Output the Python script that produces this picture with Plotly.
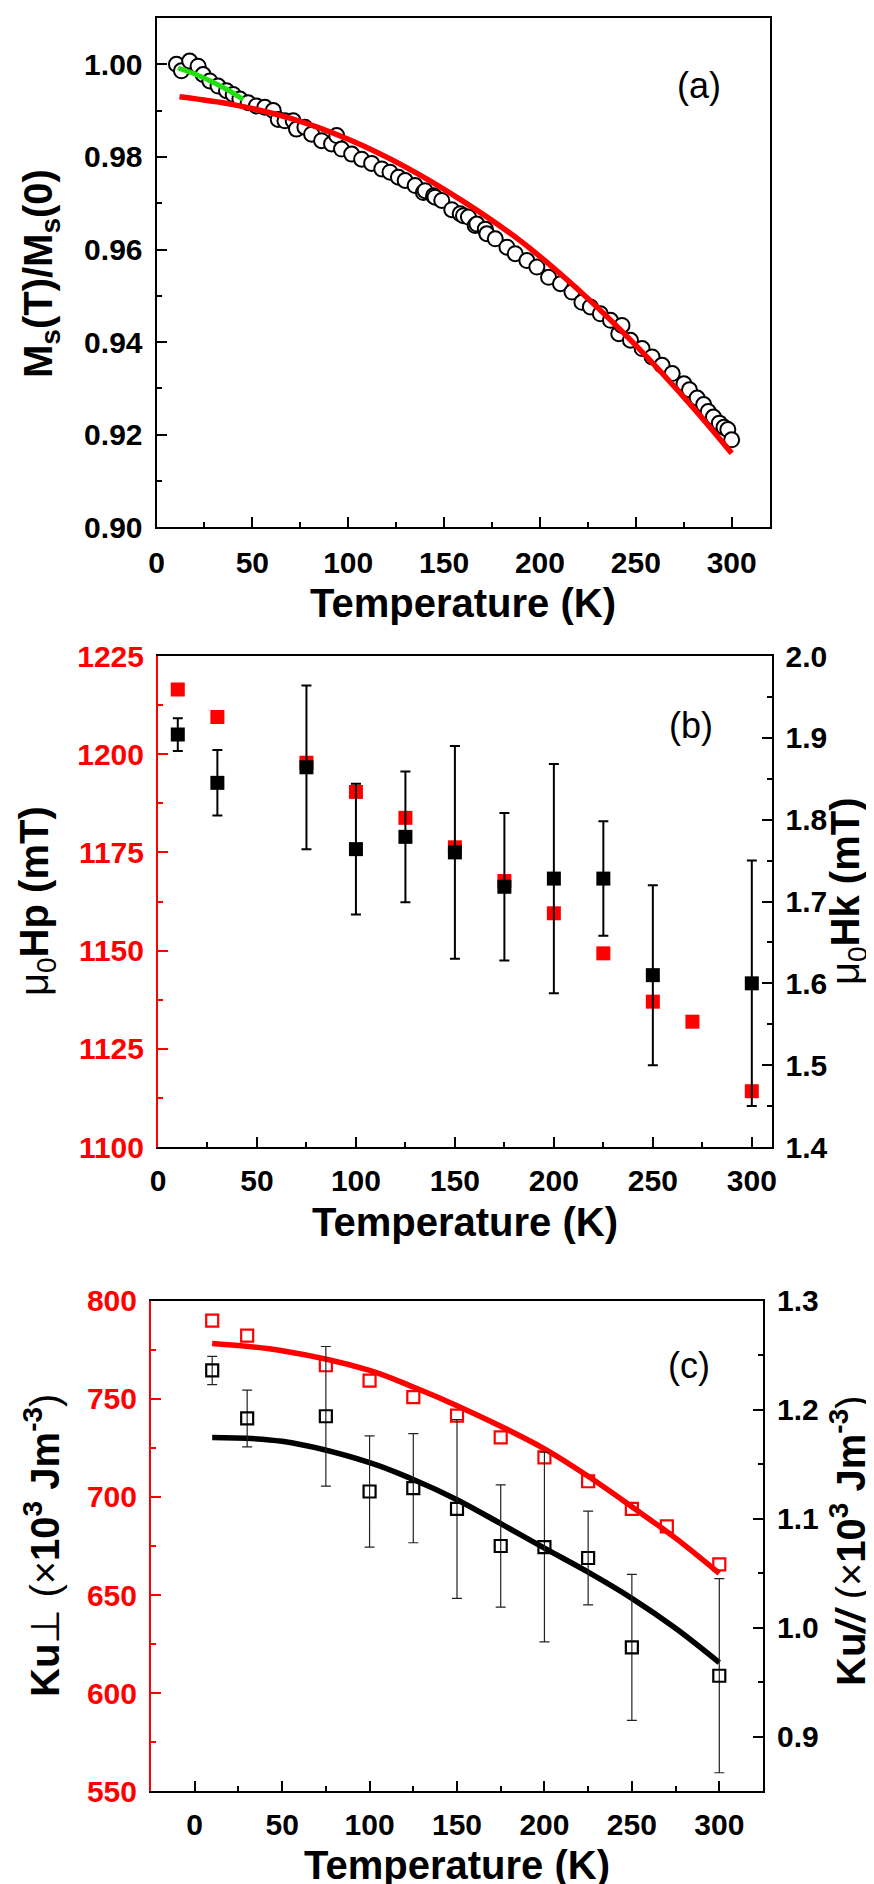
import plotly.graph_objects as go

W, H = 874, 1884
FONT = "Liberation Sans, Arial, Helvetica, sans-serif"

# ---------------- Panel (a) data ----------------
T_a = [10.4, 13.0, 17.3, 21.7, 24.3, 27.8, 32.1, 36.5, 40.0, 43.5, 47.8, 52.1, 56.5,
       60.9, 63.5, 67.0, 71.3, 73.0, 77.4, 80.9, 86.1, 91.3, 94.0, 96.5, 101.8, 107.0,
       112.2, 117.5, 121.8, 126.2, 129.7, 134.9, 139.2, 140.1, 144.5, 145.3, 148.8,
       154.0, 158.4, 160.1, 162.7, 166.2, 167.1, 171.5, 172.3, 176.7, 182.8, 187.1,
       193.2, 198.4, 204.5, 210.7, 216.7, 221.9, 226.3, 231.5, 236.8, 241.1, 242.8,
       247.2, 253.3, 258.5, 263.7, 269.0, 275.1, 278.0, 282.0, 285.4, 287.8, 290.5,
       293.6, 296.0, 298.0, 300.0]
Ms_ratio = [1.0000, 0.9986, 1.0007, 0.9996, 0.9978, 0.9964, 0.9953, 0.9943, 0.9935,
            0.9925, 0.9917, 0.9910, 0.9907, 0.9900, 0.9881, 0.9878, 0.9878, 0.9860,
            0.9864, 0.9849, 0.9835, 0.9828, 0.9846, 0.9817, 0.9806, 0.9795, 0.9786,
            0.9774, 0.9767, 0.9756, 0.9749, 0.9738, 0.9723, 0.9727, 0.9716, 0.9713,
            0.9706, 0.9686, 0.9677, 0.9673, 0.9670, 0.9652, 0.9655, 0.9644, 0.9634,
            0.9623, 0.9605, 0.9591, 0.9576, 0.9562, 0.9540, 0.9526, 0.9508, 0.9486,
            0.9476, 0.9461, 0.9447, 0.9418, 0.9436, 0.9404, 0.9386, 0.9368, 0.9350,
            0.9332, 0.9310, 0.9297, 0.9279, 0.9265, 0.9250, 0.9238, 0.9225, 0.9216,
            0.9211, 0.9189]
T_fit_a = [12, 40, 70, 100, 130, 160, 190, 220, 250, 280, 300]
M_fit_a = [0.9930, 0.9913, 0.9883, 0.9838, 0.9778, 0.9704, 0.9618, 0.9513, 0.9393,
           0.9258, 0.9160]
T_green = [11.2, 20.0, 28.7, 37.0, 45.2]
M_green = [0.9992, 0.9979, 0.9963, 0.9945, 0.9924]

# ---------------- Panel (b) data ----------------
T_hp = [10, 30, 75, 100, 125, 150, 175, 200, 225, 250, 270, 300]
Hp = [1216.5, 1209.5, 1197.8, 1190.4, 1183.8, 1176.3, 1167.7, 1159.5, 1149.3, 1137.0, 1131.9, 1114.2]
T_hk = [10, 30, 75, 100, 125, 150, 175, 200, 225, 250, 300]
Hk = [1.904, 1.845, 1.864, 1.764, 1.779, 1.760, 1.718, 1.728, 1.728, 1.610, 1.600]
Hk_err = [0.020, 0.040, 0.100, 0.080, 0.080, 0.130, 0.090, 0.140, 0.070, 0.110, 0.150]

# ---------------- Panel (c) data ----------------
T_kperp = [10, 30, 75, 100, 125, 150, 175, 200, 225, 250, 270, 300]
Kperp = [789.8, 782.2, 767.1, 759.3, 750.9, 741.4, 730.4, 720.2, 708.0, 693.9, 685.0, 665.6]
T_kfit = [10, 50, 100, 125, 150, 175, 200, 225, 250, 275, 300]
Kperp_fit = [778.2, 774.5, 764.5, 756.0, 746.5, 736.0, 724.5, 710.5, 695.0, 679.0, 661.0]
T_kpar = [10, 30, 75, 100, 125, 150, 175, 200, 225, 250, 300]
Kpar = [1.236, 1.192, 1.194, 1.125, 1.128, 1.109, 1.075, 1.074, 1.064, 0.982, 0.956]
Kpar_err = [0.013, 0.026, 0.064, 0.051, 0.050, 0.082, 0.056, 0.087, 0.043, 0.067, 0.089]
Kpar_fit = [1.1746, 1.1710, 1.1515, 1.1360, 1.1175, 1.0955, 1.0730, 1.0510, 1.0270, 0.9995, 0.9680]

x_ticks = [0, 50, 100, 150, 200, 250, 300]


def px(x):
    return x / W


def py(y):
    return 1 - y / H


fig = go.Figure()

# (a)
fig.add_trace(go.Scatter(x=T_a, y=Ms_ratio, mode="markers", xaxis="x", yaxis="y",
                         marker=dict(symbol="circle", size=15, color="white",
                                     line=dict(color="black", width=2)),
                         showlegend=False))
fig.add_trace(go.Scatter(x=T_fit_a, y=M_fit_a, mode="lines", xaxis="x", yaxis="y",
                         line=dict(color="#ff0000", width=5.5, shape="spline"), showlegend=False))
fig.add_trace(go.Scatter(x=T_green, y=M_green, mode="lines", xaxis="x", yaxis="y",
                         line=dict(color="#22e010", width=5, shape="spline"), showlegend=False))

# (b)
fig.add_trace(go.Scatter(x=T_hp, y=Hp, mode="markers", xaxis="x2", yaxis="y2",
                         marker=dict(symbol="square", size=14, color="#ff0000"),
                         showlegend=False))
fig.add_trace(go.Scatter(x=T_hk, y=Hk, mode="markers", xaxis="x2", yaxis="y3",
                         marker=dict(symbol="square", size=14, color="black"),
                         error_y=dict(type="data", array=Hk_err, visible=True,
                                      color="black", thickness=2, width=5),
                         showlegend=False))

# (c)
fig.add_trace(go.Scatter(x=T_kfit, y=Kperp_fit, mode="lines", xaxis="x3", yaxis="y4",
                         line=dict(color="#ff0000", width=5.5, shape="spline"), showlegend=False))
fig.add_trace(go.Scatter(x=T_kperp, y=Kperp, mode="markers", xaxis="x3", yaxis="y4",
                         marker=dict(symbol="square-open", size=12, color="#ff0000",
                                     line=dict(width=2.2)),
                         showlegend=False))
fig.add_trace(go.Scatter(x=T_kfit, y=Kpar_fit, mode="lines", xaxis="x3", yaxis="y5",
                         line=dict(color="black", width=5.5, shape="spline"), showlegend=False))
fig.add_trace(go.Scatter(x=T_kpar, y=Kpar, mode="markers", xaxis="x3", yaxis="y5",
                         marker=dict(symbol="square-open", size=12, color="black",
                                     line=dict(width=2.2)),
                         error_y=dict(type="data", array=Kpar_err, visible=True,
                                      color="#222222", thickness=1.2, width=5),
                         showlegend=False))


def axis(color="black", **kw):
    d = dict(showline=True, linewidth=2, linecolor=color, ticks="inside", ticklen=10,
             tickwidth=2, tickcolor=color, showgrid=False, zeroline=False,
             tickfont=dict(family=FONT, size=30, color=color, weight="bold"),
             minor=dict(ticks="inside", ticklen=5, tickwidth=2, tickcolor=color, showgrid=False),
             automargin=False)
    d.update(kw)
    return d


fig.update_layout(
    width=W, height=H, margin=dict(l=0, r=0, t=0, b=0),
    paper_bgcolor="white", plot_bgcolor="white", showlegend=False,
    # (a)
    xaxis=axis(domain=[px(148.5), px(762)], range=[0, 320], tickvals=x_ticks,
               minor_dtick=25, minor_tick0=0, anchor="y", mirror=True, ticklabelstandoff=8),
    yaxis=axis(domain=[py(519.3), py(10)], range=[0.90, 1.01], dtick=0.02, tick0=0.9,
               tickformat=".2f", minor_dtick=0.01, minor_tick0=0.9, anchor="x", mirror=True,
               ticklabelstandoff=6),
    # (b)
    xaxis2=axis(domain=[px(150), px(763.6)], range=[0, 310], tickvals=x_ticks,
                minor_dtick=25, minor_tick0=0, anchor="y2", mirror=True, ticklabelstandoff=6),
    yaxis2=axis(color="#ff0000", domain=[py(1139), py(648)], range=[1100, 1225], dtick=25,
                tick0=1100, minor_dtick=12.5, minor_tick0=1100, anchor="x2", ticklabelstandoff=6),
    yaxis3=axis(range=[1.4, 2.0], dtick=0.1, tick0=1.4, tickformat=".1f", minor_dtick=0.05,
                minor_tick0=1.4, anchor="x2", overlaying="y2", side="right", ticklabelstandoff=6),
    # (c)
    xaxis3=axis(domain=[px(143), px(755)], range=[-25, 325], tickvals=x_ticks,
                minor_dtick=25, minor_tick0=0, anchor="y4", mirror=True, ticklabelstandoff=6),
    yaxis4=axis(color="#ff0000", domain=[py(1783.3), py(1292.7)], range=[550, 800], dtick=50,
                tick0=550, minor_dtick=25, minor_tick0=550, anchor="x3", ticklabelstandoff=6),
    yaxis5=axis(range=[0.85, 1.3], dtick=0.1, tick0=0.9, tickformat=".1f", minor_dtick=0.05,
                minor_tick0=0.85, anchor="x3", overlaying="y4", side="right", ticklabelstandoff=6),
)

TITLE_FONT = dict(family=FONT, size=40, color="black")
LABEL_FONT = dict(family=FONT, size=36, color="black")


def note(text, x, y, font, angle=0):
    fig.add_annotation(text=text, x=px(x), y=py(y), xref="paper", yref="paper",
                       xanchor="center", yanchor="middle", showarrow=False,
                       textangle=angle, font=font)


# axis titles
note("<b>Temperature (K)</b>", 455, 595, TITLE_FONT)
note("<b>M<sub>s</sub>(T)/M<sub>s</sub>(0)</b>", 33, 266, TITLE_FONT, -90)
note("<b>Temperature (K)</b>", 457, 1214, TITLE_FONT)
note("μ<sub>0</sub><b>Hp (mT)</b>", 29, 893, TITLE_FONT, -90)
note("μ<sub>0</sub><b>Hk (mT)</b>", 840, 883, TITLE_FONT, -90)
note("<b>Temperature (K)</b>", 449, 1857, TITLE_FONT)
note("<b>Ku</b>⊥ (×<b>10<sup>3</sup> Jm<sup>-3</sup></b>)", 34, 1538, TITLE_FONT, -90)
note("<b>Ku<i>//</i></b> (×<b>10<sup>3</sup> Jm<sup>-3</sup></b>)", 840, 1533, TITLE_FONT, -90)

# panel labels
note("(a)", 691, 77, LABEL_FONT)
note("(b)", 683, 717, LABEL_FONT)
note("(c)", 681, 1357, LABEL_FONT)

fig.write_html("out.html")
